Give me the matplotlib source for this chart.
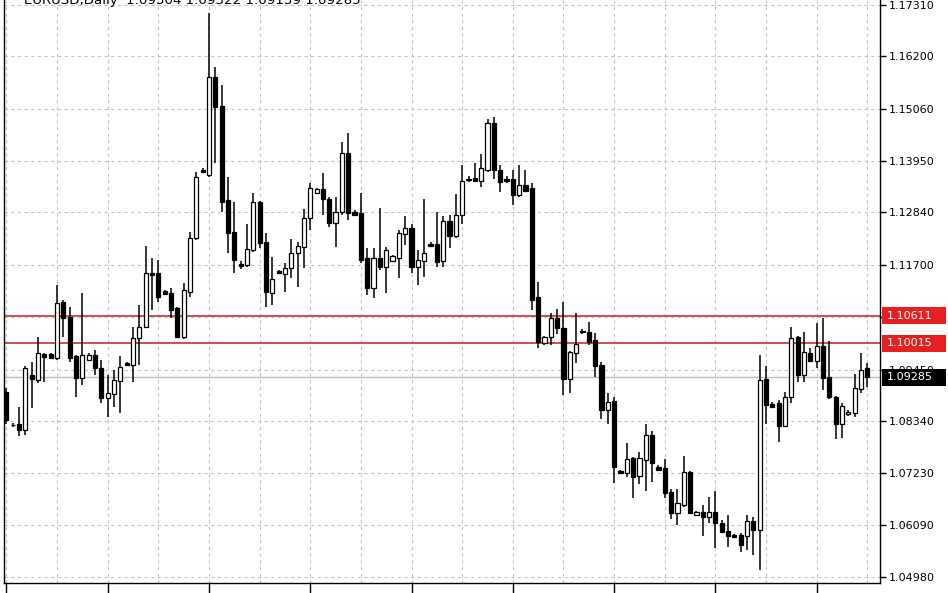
import matplotlib
matplotlib.use('Agg')
import numpy as np
import matplotlib.pyplot as plt
from matplotlib.patches import Rectangle
from matplotlib.transforms import blended_transform_factory

#===============================================================================
# EURUSD daily bars
#===============================================================================
opens = [1.0897, 1.0826, 1.0828, 1.0815, 1.0933, 1.0923, 1.0979, 1.0979, 1.0970, 1.1091,
         1.1058, 1.0974, 1.0927, 1.0966, 1.0976, 1.0948, 1.0884, 1.0892, 1.0920, 1.0959,
         1.0955, 1.1013, 1.1037, 1.1153, 1.1153, 1.1114, 1.1110, 1.1078, 1.1015, 1.1112,
         1.1229, 1.1375, 1.1364, 1.1576, 1.1513, 1.1311, 1.1242, 1.1173, 1.1171, 1.1203,
         1.1306, 1.1220, 1.1110, 1.1158, 1.1151, 1.1164, 1.1196, 1.1209, 1.1272, 1.1326,
         1.1334, 1.1313, 1.1261, 1.1285, 1.1412, 1.1285, 1.1283, 1.1186, 1.1121, 1.1186,
         1.1166, 1.1179, 1.1186, 1.1237, 1.1250, 1.1166, 1.1179, 1.1216, 1.1216, 1.1179,
         1.1265, 1.1233, 1.1278, 1.1356, 1.1358, 1.1352, 1.1375, 1.1477, 1.1375, 1.1356,
         1.1356, 1.1321, 1.1343, 1.1336, 1.1102, 1.1002, 1.1015, 1.1056, 1.1035, 1.0925,
         1.0981, 1.1028, 1.1026, 1.1009, 1.0955, 1.0858, 1.0877, 1.0726, 1.0722, 1.0754,
         1.0716, 1.0750, 1.0804, 1.0735, 1.0733, 1.0681, 1.0636, 1.0653, 1.0724, 1.0632,
         1.0638, 1.0627, 1.0638, 1.0614, 1.0597, 1.0588, 1.0588, 1.0586, 1.0619, 1.0599,
         1.0925, 1.0871, 1.0873, 1.0823, 1.0886, 1.1015, 1.0933, 1.0981, 1.0964, 1.0996,
         1.0929, 1.0886, 1.0828, 1.0849, 1.0851, 1.0903, 1.0948]
highs = [1.0905, 1.0830, 1.0864, 1.0953, 1.0961, 1.1015, 1.0981, 1.0981, 1.1127, 1.1095,
         1.1080, 1.0976, 1.1110, 1.0981, 1.0987, 1.0966, 1.0933, 1.0944, 1.0974, 1.0961,
         1.1037, 1.1084, 1.1211, 1.1186, 1.1181, 1.1117, 1.1121, 1.1080, 1.1132, 1.1242,
         1.1371, 1.1380, 1.1714, 1.1597, 1.1559, 1.1360, 1.1306, 1.1179, 1.1259, 1.1326,
         1.1308, 1.1239, 1.1188, 1.1160, 1.1175, 1.1227, 1.1220, 1.1291, 1.1347, 1.1336,
         1.1369, 1.1317, 1.1317, 1.1436, 1.1455, 1.1289, 1.1326, 1.1207, 1.1207, 1.1293,
         1.1209, 1.1192, 1.1246, 1.1276, 1.1259, 1.1203, 1.1313, 1.1220, 1.1285, 1.1276,
         1.1278, 1.1324, 1.1386, 1.1362, 1.1390, 1.1410, 1.1485, 1.1490, 1.1386, 1.1362,
         1.1375, 1.1386, 1.1375, 1.1347, 1.1134, 1.1017, 1.1067, 1.1076, 1.1091, 1.0985,
         1.1067, 1.1033, 1.1048, 1.1024, 1.0961, 1.0894, 1.0886, 1.0729, 1.0787, 1.0757,
         1.0767, 1.0828, 1.0813, 1.0739, 1.0752, 1.0688, 1.0688, 1.0759, 1.0726, 1.0640,
         1.0653, 1.0670, 1.0683, 1.0621, 1.0632, 1.0591, 1.0593, 1.0632, 1.0627, 1.0976,
         1.0953, 1.0875, 1.0880, 1.0897, 1.1037, 1.1017, 1.1026, 1.0992, 1.1046, 1.1056,
         1.1007, 1.0888, 1.0873, 1.0858, 1.0936, 1.0981, 1.0959]
lows = [1.0828, 1.0821, 1.0802, 1.0804, 1.0862, 1.0916, 1.0918, 1.0968, 1.0966, 1.1015,
        1.0961, 1.0886, 1.0912, 1.0964, 1.0933, 1.0873, 1.0843, 1.0864, 1.0851, 1.0953,
        1.0918, 1.0955, 1.1035, 1.1073, 1.1091, 1.1106, 1.1056, 1.1013, 1.1011, 1.1102,
        1.1224, 1.1369, 1.1360, 1.1390, 1.1285, 1.1196, 1.1153, 1.1162, 1.1166, 1.1198,
        1.1207, 1.1080, 1.1084, 1.1151, 1.1112, 1.1142, 1.1123, 1.1164, 1.1246, 1.1324,
        1.1278, 1.1252, 1.1209, 1.1278, 1.1267, 1.1276, 1.1175, 1.1106, 1.1099, 1.1160,
        1.1110, 1.1177, 1.1142, 1.1214, 1.1153, 1.1127, 1.1145, 1.1209, 1.1166, 1.1166,
        1.1207, 1.1229, 1.1259, 1.1349, 1.1349, 1.1339, 1.1371, 1.1356, 1.1328, 1.1347,
        1.1300, 1.1317, 1.1328, 1.1073, 1.0992, 1.0998, 1.0998, 1.1022, 1.0890, 1.0894,
        1.0959, 1.1022, 1.0998, 1.0929, 1.0839, 1.0828, 1.0701, 1.0720, 1.0713, 1.0668,
        1.0698, 1.0683, 1.0703, 1.0726, 1.0668, 1.0623, 1.0610, 1.0649, 1.0634, 1.0629,
        1.0586, 1.0614, 1.0560, 1.0593, 1.0563, 1.0582, 1.0552, 1.0556, 1.0545, 1.0513,
        1.0828, 1.0862, 1.0789, 1.0821, 1.0873, 1.0918, 1.0918, 1.0961, 1.0948, 1.0901,
        1.0882, 1.0795, 1.0798, 1.0845, 1.0843, 1.0894, 1.0907]
closes = [1.0836, 1.0825, 1.0815, 1.0948, 1.0925, 1.0981, 1.0972, 1.0970, 1.1089, 1.1056,
          1.0970, 1.0927, 1.0976, 1.0976, 1.0948, 1.0884, 1.0894, 1.0923, 1.0951, 1.0955,
          1.1013, 1.1037, 1.1153, 1.1149, 1.1102, 1.1108, 1.1073, 1.1015, 1.1117, 1.1229,
          1.1360, 1.1371, 1.1576, 1.1511, 1.1306, 1.1239, 1.1181, 1.1168, 1.1205, 1.1306,
          1.1218, 1.1112, 1.1140, 1.1153, 1.1164, 1.1196, 1.1211, 1.1272, 1.1336, 1.1334,
          1.1313, 1.1261, 1.1285, 1.1412, 1.1283, 1.1278, 1.1181, 1.1121, 1.1186, 1.1166,
          1.1203, 1.1190, 1.1239, 1.1250, 1.1166, 1.1181, 1.1196, 1.1211, 1.1177, 1.1265,
          1.1233, 1.1278, 1.1352, 1.1354, 1.1352, 1.1380, 1.1477, 1.1375, 1.1349, 1.1352,
          1.1321, 1.1343, 1.1330, 1.1095, 1.1005, 1.1015, 1.1056, 1.1035, 1.0925, 1.0983,
          1.1000, 1.1026, 1.1005, 1.0953, 1.0858, 1.0875, 1.0735, 1.0722, 1.0752, 1.0713,
          1.0754, 1.0804, 1.0744, 1.0729, 1.0679, 1.0636, 1.0657, 1.0724, 1.0636, 1.0638,
          1.0627, 1.0638, 1.0614, 1.0595, 1.0586, 1.0584, 1.0567, 1.0619, 1.0599, 1.0923,
          1.0869, 1.0864, 1.0823, 1.0886, 1.1013, 1.0933, 1.0983, 1.0964, 1.0996, 1.0927,
          1.0886, 1.0828, 1.0867, 1.0854, 1.0905, 1.0944, 1.09285]

price_ticks = [1.04980, 1.06090, 1.07230, 1.08340, 1.09450, 1.10590,
               1.11700, 1.12840, 1.13950, 1.15060, 1.16200, 1.17310]
date_labels = ["16 Jul 2015", "4 Aug 2015", "24 Aug 2015", "11 Sep 2015", "30 Sep 2015",
               "19 Oct 2015", "6 Nov 2015", "25 Nov 2015", "14 Dec 2015"]
levels = [1.10611, 1.10015]
bid = 1.09285
header = "EURUSD,Daily  1.09304 1.09322 1.09139 1.09285"

opens = np.array(opens)
highs = np.array(highs)
lows = np.array(lows)
closes = np.array(closes)

#===============================================================================
# Figure and axes (pixel based layout)
#===============================================================================
W = 948.
H = 593.
fig = plt.figure(figsize = (W / 100, H / 100), dpi = 100)
ax = fig.add_axes([4 / W, 10 / H, 876 / W, 583 / H])
ax.set_xlim(-0.38, 138.0)
ax.set_ylim(1.04849, 1.17418)

#===============================================================================
# Candles
#===============================================================================
x = np.arange(len(opens))
up = closes >= opens
ax.vlines(x, lows, highs, color = 'black', lw = 1.1, zorder = 3)
bottom = np.minimum(opens, closes)
height = np.maximum(np.abs(closes - opens), 0.00004)
colors = ['white' if u else 'black' for u in up]
ax.bar(x, height, 0.66, bottom, color = colors, edgecolor = 'black', lw = 0.9, zorder = 4)

#===============================================================================
# Grid, ticks, spines
#===============================================================================
ax.set_xticks(np.arange(0, len(opens), 16))
ax.set_xticks(np.arange(0, len(opens), 8), minor = True)
ax.set_xticklabels(date_labels, ha = 'left')
ax.tick_params(axis = 'x', which = 'major', length = 8, width = 1, pad = 1, labelsize = 8)
ax.tick_params(axis = 'x', which = 'minor', length = 0)

ax.yaxis.tick_right()
ax.set_yticks(price_ticks)
ax.set_yticklabels(['%.5f' % p for p in price_ticks])
ax.tick_params(axis = 'y', length = 4, width = 1, pad = 2, labelsize = 8)

ax.grid(which = 'both', axis = 'x', color = '#c4c4c4', ls = (0, (3, 3)), lw = 0.8)
ax.grid(axis = 'y', color = '#c4c4c4', ls = (0, (3, 3)), lw = 0.8)
ax.set_axisbelow(True)

ax.spines['top'].set_visible(False)
for s in ['left', 'right', 'bottom']:
    ax.spines[s].set_linewidth(1)
    ax.spines[s].set_color('black')

#===============================================================================
# Horizontal levels and their price boxes
#===============================================================================
for lvl in levels:
    ax.axhline(lvl, color = '#c83030', lw = 1.2, zorder = 2)
ax.axhline(bid, color = '#bdbdbd', lw = 1, zorder = 2)

trans = blended_transform_factory(ax.transAxes, ax.transData)
box_h = 17 * (1.17418 - 1.04849) / 583
for lvl, face in [(levels[0], '#e62020'), (levels[1], '#e62020'), (bid, 'black')]:
    ax.add_patch(Rectangle((1 + 2 / 876., lvl - box_h / 2), 64 / 876., box_h,
                           transform = trans, facecolor = face, edgecolor = 'none',
                           clip_on = False, zorder = 10))
    ax.text(1 + 7 / 876., lvl, '%.5f' % lvl, transform = trans, color = 'white',
            fontsize = 8, va = 'center', ha = 'left', clip_on = False, zorder = 11)

#===============================================================================
# Header (cut at the top like the terminal window)
#===============================================================================
fig.text(24 / W, 1 - 4 / H, header, fontsize = 9.6, va = 'baseline', ha = 'left')

fig.savefig('out.png', dpi = 100)
